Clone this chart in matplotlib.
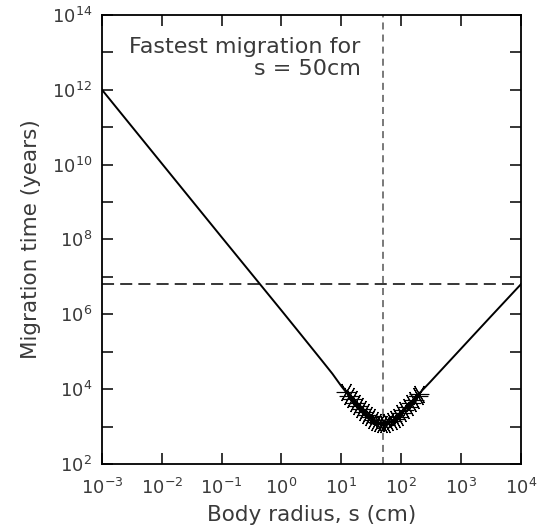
import numpy as np
import matplotlib
matplotlib.use("Agg")
import matplotlib.pyplot as plt

# solid curve
radius_cm = [1e-3, 1e-2, 1e-1, 1.0, 2.0, 4.65, 7.1, 10.0,
             12, 13.5, 15, 17, 19, 21, 24, 27, 30, 34, 38, 43, 48,
             54, 61, 69, 78, 88, 100, 113, 128, 145, 165, 190, 200,
             300, 1000, 3000, 1e4]
time_yr = [1e12, 1.07e10, 1.15e8, 1.26e6, 3.2e5, 6.0e4, 2.57e4, 1.2e4,
           8300, 6600, 5400, 4300, 3500, 3000, 2450, 2050, 1750, 1500, 1350, 1250, 1200,
           1200, 1300, 1400, 1600, 1850, 2250, 2750, 3400, 4200, 5250, 6600, 7600,
           1.5e4, 1.2e5, 8.0e5, 6.3e6]

# asterisk points
star_s = [12, 13.5, 15, 17, 19, 21, 24, 27, 30, 34, 38, 43, 48,
          54, 61, 69, 78, 88, 100, 113, 128, 145, 165, 190, 200]
star_t = [8300, 6600, 5400, 4300, 3500, 3000, 2450, 2050, 1750, 1500, 1350, 1250, 1200,
          1200, 1300, 1400, 1600, 1850, 2250, 2750, 3400, 4200, 5250, 6600, 7600]

s_best = 50
t_level = 6.3e6

grey = "#3a3a3a"
plt.rcParams["font.family"] = "DejaVu Sans"

fig = plt.figure(figsize=(5.42, 5.29), dpi=100)
ax = fig.add_axes([0.188, 0.123, 0.773, 0.849])

ax.plot(radius_cm, time_yr, color="black", lw=1.4, zorder=3)
ax.plot(star_s, star_t, ls="none", marker=(6, 2, 90), ms=14, mew=0.8,
        color="black", zorder=4)
ax.axhline(t_level, color="black", lw=1.1, dashes=(7.9, 4.0))
ax.axvline(s_best, color="#555555", lw=1.1, dashes=(4.6, 3.3))

ax.set_xscale("log")
ax.set_yscale("log")
ax.set_xlim(1e-3, 1e4)
ax.set_ylim(1e2, 1e14)

xt = [1e-3, 1e-2, 1e-1, 1e0, 1e1, 1e2, 1e3, 1e4]
ax.set_xticks(xt)
ax.set_xticklabels([r"$10^{%d}$" % int(np.log10(v)) for v in xt])
yt = [10.0 ** k for k in range(2, 15)]
ax.set_yticks(yt)
ax.set_yticklabels([r"$10^{%d}$" % k if k % 2 == 0 else "" for k in range(2, 15)])
ax.minorticks_off()

ax.tick_params(which="both", direction="in", top=True, right=True,
               length=8, width=1.1, labelsize=13, labelcolor=grey)
ax.tick_params(axis="x", pad=10)
ax.tick_params(axis="y", pad=7)
for sp in ax.spines.values():
    sp.set_linewidth(1.3)

ax.set_xlabel("Body radius, s (cm)", fontsize=15.5, color=grey, labelpad=5)
ax.set_ylabel("Migration time (years)", fontsize=15.5, color=grey, labelpad=8)

ax.text(21, 2.6e13, "Fastest migration for\ns = 50cm", ha="right", va="top",
        fontsize=16, color=grey, linespacing=1.15)

fig.savefig("out.png", dpi=100)
